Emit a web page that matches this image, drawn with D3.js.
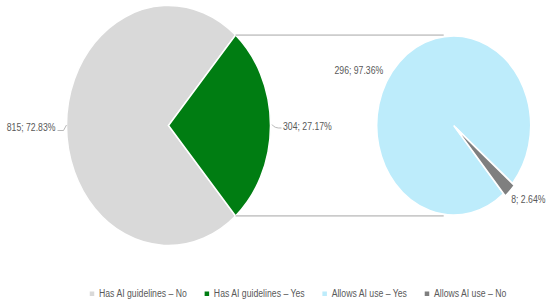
<!DOCTYPE html>
<html>
<head>
<meta charset="utf-8">
<script src="https://cdn.jsdelivr.net/npm/d3@7"></script>
<style>
  body { margin: 0; background: #fff; }
  svg text { font-family: "Liberation Sans", Arial, sans-serif; fill: #595959; }
</style>
</head>
<body>
<svg id="chart" width="550" height="303"></svg>
<script>
// data
const mainLabels = ["Has AI guidelines – No", "Has AI guidelines – Yes"];
const mainValues = [815, 304];
const mainPct = ["72.83%", "27.17%"];
const subLabels = ["Allows AI use – Yes", "Allows AI use – No"];
const subValues = [296, 8];
const subPct = ["97.36%", "2.64%"];
const colors = ["#d9d9d9", "#007d12", "#bdecfb", "#7f7f7f"];

const svg = d3.select("#chart");
const deg = Math.PI / 180;
const fs = 11;
const narrow = 0.79; // no narrow font installed, squeeze the regular one

function addText(x, y, str, anchor) {
    return svg.append("text")
        .attr("transform", "translate(" + x + "," + y + ") scale(" + narrow + ",1)")
        .attr("text-anchor", anchor || "start")
        .attr("font-size", fs)
        .text(str);
}

// big pie (ellipse because the picture is stretched)
const big = {cx: 168.5, cy: 125.5, rx: 102, ry: 120};
const greenShare = mainValues[1] / d3.sum(mainValues) * 360;
const bigStart = (90 + greenShare / 2) * deg;

const bigPie = d3.pie().sort(null).startAngle(bigStart).endAngle(bigStart + 2 * Math.PI);
const bigArcs = bigPie(mainValues);
const bigArc = d3.arc().innerRadius(0).outerRadius(big.ry);

const gBig = svg.append("g")
    .attr("transform", "translate(" + big.cx + "," + big.cy + ") scale(" + (big.rx / big.ry) + ",1)");
gBig.selectAll("path")
    .data(bigArcs)
    .enter()
    .append("path")
        .attr("d", bigArc)
        .attr("fill", (d, i) => colors[i])
        .attr("stroke", "#fff")
        .attr("stroke-width", 1.5)
        .attr("vector-effect", "non-scaling-stroke");

// small pie
const small = {cx: 453.7, cy: 125.5, rx: 77, ry: 89.5};
const grayShare = subValues[1] / d3.sum(subValues) * 360;
const smallStart = (135 + grayShare / 2) * deg;
const smallPie = d3.pie().sort(null).startAngle(smallStart).endAngle(smallStart + 2 * Math.PI);
const smallArcs = smallPie(subValues);
const smallArc = d3.arc().innerRadius(0).outerRadius(small.ry);

const gSmall = svg.append("g")
    .attr("transform", "translate(" + small.cx + "," + small.cy + ") scale(" + (small.rx / small.ry) + ",1)");
gSmall.selectAll("path")
    .data(smallArcs)
    .enter()
    .append("path")
        .attr("d", smallArc)
        .attr("fill", (d, i) => colors[i + 2])
        .attr("stroke", "#fff")
        .attr("stroke-width", 1.5)
        .attr("vector-effect", "non-scaling-stroke")
        .attr("transform", (d, i) => {
            if (i == 0) return null;
            const m = (d.startAngle + d.endAngle) / 2;
            return "translate(" + (Math.sin(m) * 3) + "," + (-Math.cos(m) * 3) + ")";
        });

function pt(e, a) {
    return [e.cx + e.rx * Math.sin(a), e.cy - e.ry * Math.cos(a)];
}

// connector lines from the green slice edges to the small pie
const green = bigArcs[1];
[green.startAngle, green.endAngle].forEach(a => {
    const p = pt(big, a);
    svg.append("line")
        .attr("x1", p[0]).attr("y1", p[1])
        .attr("x2", small.cx - 10).attr("y2", p[1])
        .attr("stroke", "#a6a6a6")
        .attr("stroke-width", 1);
});

// data labels
function mid(d) { return (d.startAngle + d.endAngle) / 2; }

// gray big slice: label on the left with a small leader
let p = pt(big, mid(bigArcs[0]));
svg.append("path")
    .attr("d", "M" + p[0] + "," + (p[1] - 0.5) + "L" + (p[0] - 3) + "," + (p[1] + 5) + "L" + (p[0] - 9) + "," + (p[1] + 5))
    .attr("fill", "none").attr("stroke", "#a6a6a6").attr("stroke-width", 0.8);
addText(p[0] - 11, p[1] + 5.5, mainValues[0] + "; " + mainPct[0], "end");

p = pt(big, mid(bigArcs[1]));
svg.append("path")
    .attr("d", "M" + (p[0] + 1.5) + "," + (p[1] - 1) + "Q" + (p[0] + 4) + "," + (p[1] + 3) + " " + (p[0] + 11) + "," + (p[1] + 2.5))
    .attr("fill", "none").attr("stroke", "#a6a6a6").attr("stroke-width", 0.8);
addText(p[0] + 12.5, p[1] + 4.5, mainValues[1] + "; " + mainPct[1]);

p = pt(small, mid(smallArcs[0]));
addText(p[0] - 16, p[1] + 12, subValues[0] + "; " + subPct[0], "end");

p = pt(small, mid(smallArcs[1]));
addText(p[0] + 3, p[1] + 14, subValues[1] + "; " + subPct[1]);

// legend
const legendLabels = mainLabels.concat(subLabels);
let lx = 92;
legendLabels.forEach((lab, i) => {
    svg.append("rect")
        .attr("x", lx - 2.25).attr("y", 291.5)
        .attr("width", 4.5).attr("height", 4.5)
        .attr("fill", colors[i]);
    const t = addText(lx + 7, 297, lab);
    lx = lx + 7 + t.node().getComputedTextLength() * narrow + 20;
});
</script>
</body>
</html>
